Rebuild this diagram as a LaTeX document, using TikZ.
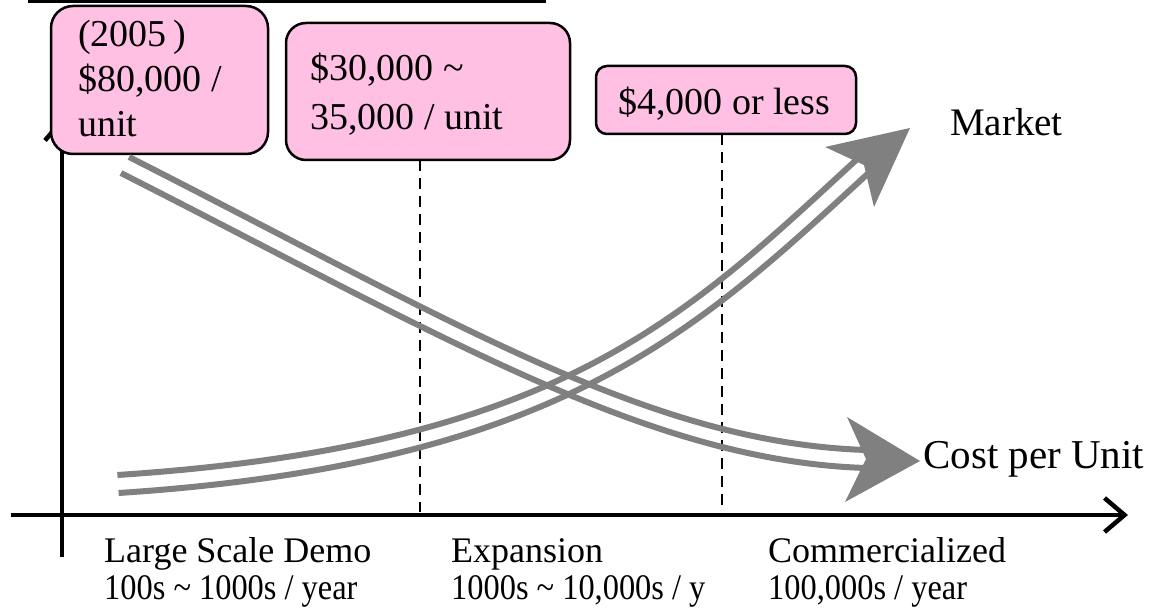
\documentclass[tikz,border=0pt]{standalone}
\usepackage{fontspec}
\setmainfont{Liberation Serif}
\newfontfamily\narrowserif[FakeStretch=0.9]{Liberation Serif}
\usetikzlibrary{arrows.meta}
\definecolor{boxpink}{RGB}{255,192,228}
\definecolor{railgray}{RGB}{128,128,128}
\begin{document}
\begin{tikzpicture}[x=1pt,y=-1pt,
  box/.style={draw=black, line width=2.5pt, fill=boxpink, inner sep=0pt, outer sep=0pt, anchor=north west},
  boxtext/.style={anchor=base west, inner sep=0pt, font=\fontsize{38}{38}\selectfont},
  lbl/.style={anchor=base west, inner sep=0pt},
  stage/.style={anchor=base west, inner sep=0pt, font=\fontsize{36}{36}\selectfont},
  stagenum/.style={anchor=base west, inner sep=0pt, font=\narrowserif\fontsize{36}{36}\selectfont},
  rail/.style={draw=railgray, line width=6pt},
  head/.style={fill=railgray},
  axis/.style={line width=4.5pt, -{Straight Barb[length=20pt,width=34pt]}},
  guide/.style={line width=2.5pt, dash pattern=on 11pt off 7pt}]
\useasboundingbox (0,0) rectangle (1149,609);

% top rule
\coordinate (tl0) at (28,1.3);
\coordinate (tl1) at (546,1.3);
\draw[line width=2.7pt] (tl0) -- (tl1);

% axes
\coordinate (ybot) at (62,557);
\coordinate (ytop) at (62,117);
\coordinate (xl) at (11,515);
\coordinate (xr) at (1128,515);
\draw[axis] (ybot) -- (ytop);
\draw[axis] (xl) -- (xr);

% guides
\coordinate (g1b) at (420,512);
\coordinate (g2b) at (722,512);

% boxes
\node[box, rounded corners=22pt, minimum width=217pt, minimum height=148pt] (b1) at (51,6) {};
\node[box, rounded corners=20pt, minimum width=284pt, minimum height=137pt] (b2) at (286,23) {};
\node[box, rounded corners=11pt, minimum width=260pt, minimum height=68pt] (b3) at (596,66) {};

\draw[guide] (b2.south -| g1b) -- (g1b);
\draw[guide] (b3.south -| g2b) -- (g2b);

\node[boxtext] (t1a) at (78,47) {(2005\,)};
\node[boxtext] (t1b) at (78,92) {\$80,000 /};
\node[boxtext] (t1c) at (78,137) {unit};
\node[boxtext] (t2a) at (310,81) {\$30,000 \textasciitilde};
\node[boxtext] (t2b) at (310,130) {35,000 / unit};
\node[boxtext] (t3) at (618,115) {\$4,000 or less};

% cost per unit curve
\fill[head] (920,461) -- (847,417) -- (866,459) -- (845,502) -- cycle;
\draw[rail] (129.1,157.0) .. controls (454.1,322.0) and (650.3,443.0) .. (866.3,450.0);
\draw[rail] (120.9,173.0) .. controls (445.9,338.0) and (649.7,461.0) .. (865.7,468.0);

% market curve
\fill[head] (910,128) -- (825,147) -- (864,165) -- (874,207) -- cycle;
\draw[rail] (117.4,475.0) .. controls (559.4,446.0) and (683.9,318.4) .. (857.9,158.4);
\draw[rail] (118.6,493.0) .. controls (560.6,464.0) and (696.1,331.6) .. (870.1,171.6);

% labels
\node[lbl, font=\fontsize{39}{39}\selectfont] (mkt) at (950,136) {Market};
\node[lbl, font=\fontsize{41}{41}\selectfont] (cpu) at (923,468) {Cost per Unit};

\node[stage] (s1a) at (104,562) {Large Scale Demo};
\node[stagenum] (s1b) at (104,599) {100s \textasciitilde{} 1000s / year};
\node[stage] (s2a) at (451,562) {Expansion};
\node[stagenum] (s2b) at (451,599) {1000s \textasciitilde{} 10,000s / y};
\node[stage] (s3a) at (768,562) {Commercialized};
\node[stagenum] (s3b) at (768,599) {100,000s / year};
\end{tikzpicture}
\end{document}
